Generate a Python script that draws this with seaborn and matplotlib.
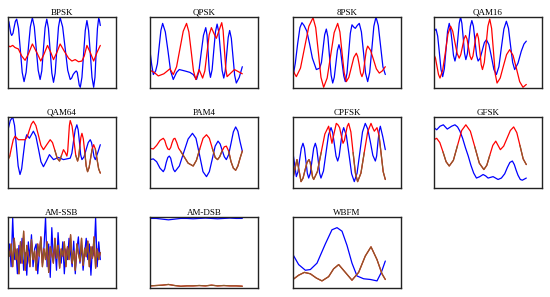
import numpy as np
import pandas as pd
import matplotlib
matplotlib.use("Agg")
import matplotlib.pyplot as plt
import seaborn as sns

sns.set_theme(style="white")
plt.rcParams["font.family"] = ["Liberation Serif", "DejaVu Serif"]

# panel titles, in reading order
titles = ["BPSK", "QPSK", "8PSK", "QAM16", "QAM64", "PAM4",
          "CPFSK", "GFSK", "AM-SSB", "AM-DSB", "WBFM"]

# each trace: sample position (0-100 % of frame) and normalised amplitude (0-1)
bpsk_i_t = [0, 1, 2, 3, 4.0, 5.4, 6.7, 8, 9.4, 11.4, 13.4, 15.4, 17.4, 19.6, 21.9, 24.2, 26.4,
            28.5, 30.6, 32.7, 34.8, 36.6, 38.4, 40.2, 42.0, 43.8, 45.7, 47.5, 49.3, 51.1, 52.9,
            54.7, 56.5, 59.2, 62.0, 64.7, 67.4, 69, 70.6, 72.3, 73.9, 75, 76.1, 77.2, 78.3, 80.1,
            81.9, 83.7, 85.5, 87.3, 89.2, 91, 92.8, 94.2, 95.5, 96.9, 98.2, 99.1, 100]
bpsk_i = [.96, .93, .85, .77, .74, .77, .86, .94, .97, .84, .53, .22, .09, .22, .54, .86, .99,
          .86, .55, .25, .12, .24, .55, .85, .97, .84, .52, .21, .08, .21, .54,
          .86, .99, .86, .55, .25, .12, .14, .19, .22, .24, .22, .13, .04, .01, .15,
          .48, .81, .95, .81, .48, .15, .01, .15, .50, .84, .98, .95, .88]
bpsk_q_t = [0, 2.2, 5.1, 7.6, 11.2, 14.9, 18.5, 22.1, 26.4, 31.2, 35.5, 39.1, 42.8, 46.4, 49.3,
            52.9, 56.5, 60.9, 65.6, 69.2, 72.8, 76.4, 80.1, 82.6, 85.5, 89.1, 92.8, 96.4, 100]
bpsk_q = [.60, .58, .60, .57, .55, .45, .39, .48, .62, .50, .38, .48, .60, .50, .40,
          .50, .62, .52, .42, .38, .40, .37, .38, .45, .60, .50, .38, .50, .60]

qpsk_i_t = [0, 1.8, 3.6, 6.1, 8, 9.9, 11.8, 13.7, 16.6, 19.5, 22.3, 25.2, 28.8, 31.7, 37.8,
            43.2, 46.8, 50.4, 52.9, 55.4, 57.9, 60.4, 61.7, 63, 64.2, 65.5, 67.3, 69.1, 70.9,
            72.7, 74.5, 76.3, 78.1, 79.9, 81.5, 83.1, 84.7, 86.3, 88.1, 89.9, 91.7, 93.5, 96.7, 100]
qpsk_i = [.52, .33, .19, .24, .34, .58, .81, .91, .79, .52, .24, .12, .22, .26, .24,
          .22, .19, .12, .23, .49, .74, .85, .75, .50, .25, .15, .26, .53, .79,
          .90, .79, .52, .25, .14, .24, .48, .71, .81, .70, .44, .18, .07, .15, .30]
qpsk_q_t = [0, 4.5, 9, 15, 21.6, 25.2, 28.8, 32.4, 36, 39.6, 42.1, 44.6, 47.1, 49.6, 51.4,
            53.2, 55.1, 57, 59.4, 61.8, 64.1, 66.5, 69.2, 71.9, 74.8, 77.7, 79.2, 80.6, 82.1,
            83.5, 87.5, 91.5, 100]
qpsk_q = [.25, .22, .17, .20, .27, .19, .30, .55, .80, .91, .79, .52, .24, .12, .19,
          .26, .20, .14, .24, .50, .75, .85, .77, .70, .81, .92, .81, .54, .27,
          .16, .21, .26, .20]

psk8_i_t = [0, 2.5, 5, 7.5, 9.7, 12, 15, 18, 21, 25.3, 28.9, 30.8, 32.5, 34.3, 36.1, 37.8,
            39.5, 41.3, 43.0, 44.7, 46.4, 48.1, 49.8, 51.5, 53.2, 55.0, 56.7, 58.5, 60.3, 62.1,
            63.9, 65.7, 67.5, 69.6, 71.8, 74.1, 76.4, 78.6, 80.9, 83.1, 85.4, 87.6, 89.9, 92.4,
            94.9, 97.4, 100]
psk8_i = [.16, .35, .62, .85, .92, .88, .80, .62, .42, .26, .28, .36, .55, .75, .83, .72,
          .45, .18, .07, .15, .34, .53, .61, .53, .35, .17, .09, .21, .49, .77,
          .89, .86, .84, .88, .91, .79, .50, .21, .09, .22, .55, .87, 1.0, .88,
          .59, .30, .19]
psk8_q_t = [0, 1.8, 3.6, 8.1, 12.7, 17.2, 21.7, 24.6, 27.5, 30.3, 33.2, 37, 40.8, 44.6, 48.4,
            50.8, 53.1, 55.5, 57.8, 60.5, 63.2, 65.9, 68.6, 70.1, 71.7, 73.2, 74.7, 76.3, 77.8,
            79.4, 80.9, 84, 87.2, 90.3, 93.5, 96.7, 100]
psk8_q = [.26, .20, .16, .28, .58, .87, .99, .85, .50, .15, .01, .14, .46, .78, .91,
          .79, .50, .21, .09, .15, .29, .43, .49, .44, .33, .21, .16, .22, .38,
          .53, .59, .53, .40, .27, .21, .24, .30]

qam16_i_t = [0, 2.2, 4, 5.8, 7.6, 9.4, 11.2, 13, 14.7, 16.5, 18, 19.6, 21.1, 22.7, 24.2, 25.8,
             27.3, 28.8, 30.2, 31.7, 33.1, 34.5, 36.1, 37.8, 39.4, 41, 42.7, 44.4, 46.1, 47.8,
             50, 52.3, 54.6, 56.8, 59.5, 62.2, 64.9, 67.6, 70.3, 73, 75.7, 78.4, 80.7, 82.9,
             85.2, 87.4, 91, 94.6, 97.5, 100]
qam16_i = [.80, .83, .73, .50, .26, .16, .27, .54, .80, .91, .83, .65, .46, .38, .47, .69,
           .91, 1.0, .91, .70, .49, .40, .48, .68, .87, .95, .87, .67, .46, .38,
           .42, .53, .64, .68, .61, .44, .26, .19, .30, .57, .83, .94, .84, .60,
           .36, .26, .35, .52, .62, .66]
qam16_q_t = [0, 1.6, 3.3, 4.9, 6.5, 9.4, 12.3, 15.1, 18, 20.3, 22.7, 25, 27.3, 29, 30.8, 32.5,
             34.2, 35.8, 37.4, 39, 40.6, 42.2, 43.7, 45.3, 46.8, 48.2, 49.7, 51.1, 52.5, 54.5,
             56.5, 58.4, 60.4, 62.4, 64.4, 66.3, 68.3, 71.7, 75.2, 78.6, 82, 85.6, 89.2, 92.8,
             96.4, 100]
qam16_q = [.47, .42, .30, .19, .14, .25, .50, .76, .87, .80, .64, .49, .42, .47, .58, .69,
           .74, .69, .57, .45, .40, .45, .58, .72, .77, .70, .52, .33, .26, .36,
           .62, .87, .97, .84, .52, .20, .07, .14, .31, .47, .54, .46, .28, .09,
           .01, .05]

qam64_i_t = [0, 2.5, 5.1, 7.1, 9, 11, 13, 14.8, 16.6, 18.5, 20.3, 23.2, 27.5, 30.2, 33, 35.7,
             38.4, 41.6, 44.9, 49.3, 54.7, 60.1, 67.4, 69.2, 71, 72.8, 74.6, 76, 77.4, 78.7,
             80.1, 82.4, 84.6, 86.9, 89.1, 90.5, 91.9, 93.2, 94.6, 97.3, 100]
qam64_i = [.82, .95, 1.0, .88, .60, .31, .19, .27, .47, .67, .75, .70, .80, .73, .55, .37,
           .30, .38, .47, .40, .43, .40, .42, .49, .66, .82, .89, .82, .65, .47,
           .40, .44, .54, .64, .68, .64, .54, .44, .40, .50, .61]
qam64_q_t = [0, 1.9, 3.8, 5.7, 7.6, 11.2, 18.5, 20.8, 23, 25.3, 27.5, 30.2, 33, 35.7, 38.4, 42,
             45.7, 48.2, 50.8, 53.3, 55.8, 58, 60.1, 62, 63.8, 64.7, 65.6, 66.5, 67.4, 69.4,
             71.4, 73.4, 75.4, 76.6, 77.8, 78.9, 80.1, 81.6, 83.2, 84.7, 86.2, 87.9, 89.5,
             91.2, 92.8, 94.6, 96.4, 98.2, 100]
qam64_q = [.40, .45, .57, .68, .73, .68, .68, .72, .81, .90, .94, .88, .74, .60, .54, .61,
           .68, .64, .53, .42, .38, .46, .54, .50, .45, .52, .70, .88, .95, .87,
           .67, .46, .38, .44, .58, .71, .77, .69, .50, .31, .23, .29, .42,
           .55, .61, .55, .41, .27, .21]

pam4_i_t = [0, 3.6, 7.2, 10.8, 14.4, 16, 17.6, 19.3, 20.9, 22.4, 24, 25.5, 27, 31.8, 36.5,
            41.3, 46, 49.8, 53.6, 57.4, 61.2, 64.3, 67.5, 70.6, 73.7, 76, 78.2, 80.5, 82.7,
            85.2, 87.8, 90.3, 92.8, 95.2, 97.6, 100]
pam4_i = [.40, .41, .37, .28, .23, .27, .36, .43, .45, .42, .33, .26, .23, .31, .50,
          .69, .77, .70, .47, .23, .16, .23, .41, .59, .66, .62, .53, .44, .40,
          .47, .63, .79, .86, .80, .65, .52]
pam4_q_t = [0, 3.6, 7.2, 10.8, 14.4, 16, 17.6, 19.3, 20.9, 22.4, 24, 25.5, 27, 29, 31, 33.1,
            36.5, 41.3, 46.8, 50.3, 53.9, 57.5, 61.2, 64.3, 67.5, 70.6, 73.2, 75.5, 78, 80.5,
            82.7, 85.2, 87.8, 90.3, 92.8, 95.2, 97.6, 100]
pam4_q = [.56, .55, .60, .67, .70, .67, .60, .55, .54, .57, .64, .69, .70, .64, .56, .52,
          .45, .35, .31, .39, .55, .70, .75, .70, .56, .43, .40, .44, .52, .58,
          .59, .52, .37, .28, .25, .31, .42, .52]

cpfsk_i_t = [0, 1.8, 3.6, 5.4, 7.2, 9, 10.8, 12.4, 13.9, 15.5, 17, 18.8, 20.6, 22.4, 24.2,
             25.7, 27.3, 28.8, 30.3, 33, 35.8, 38.5, 41.2, 43, 44.8, 46.6, 48.4, 50, 51.7,
             53.3, 54.9, 57.8, 60.7, 63.5, 66.4, 69.4, 72.4, 75.3, 78.3, 81, 83.8, 86.5, 89.2,
             90.6, 91.9, 93.3, 94.6, 97.3, 100]
cpfsk_i = [.49, .33, .16, .23, .40, .56, .63, .56, .39, .21, .14, .21, .39, .56, .63,
           .56, .39, .21, .14, .24, .50, .75, .85, .78, .62, .45, .38, .45, .62,
           .78, .85, .74, .47, .20, .09, .21, .50, .79, .91, .83, .65, .46, .38,
           .45, .63, .80, .87, .72, .54]
cpfsk_q_t = [0, 2.1, 4.3, 6.5, 8.7, 10.9, 13, 15.2, 17.3, 18.6, 19.9, 21.1, 22.4, 26.4, 30.5,
             34.5, 38.6, 40.4, 42.2, 44.5, 46.9, 48.7, 50.5, 52.3, 54.2, 55.7, 57.2, 58.8, 60.3,
             62.7, 65.1, 67.6, 70, 73.6, 77.2, 80.9, 84.5, 86.3, 88.1, 91, 93.2, 95.5, 97.7, 100]
cpfsk_q = [.14, .27, .40, .25, .09, .14, .25, .36, .40, .36, .26, .16, .12, .23, .50,
           .76, .87, .75, .63, .77, .91, .89, .85, .74, .63, .67, .77, .87, .91,
           .79, .50, .21, .09, .21, .50, .79, .91, .85, .80, .85, .74, .48, .23, .12]

gfsk_i_t = [0, 2.9, 6.5, 10.1, 14.4, 19.1, 22.7, 25.5, 28.1, 31, 34, 37.1, 40, 43, 46, 49.6,
            53.2, 56, 58.6, 61.3, 64, 66.7, 69.4, 73, 76.6, 79.5, 82.2, 84.9, 87, 89, 91, 93.5,
            95.7, 100]
gfsk_i = [.85, .82, .87, .89, .83, .87, .89, .86, .80, .70, .57, .45, .32, .21, .14, .16,
          .19, .17, .14, .15, .16, .14, .12, .14, .20, .29, .36, .38, .33, .25, .18, .12,
          .11, .14]
gfsk_q_t = [0, 2.9, 6.3, 9.7, 13.1, 16.5, 21, 25.5, 30, 34.5, 39.4, 44.2, 49.1, 54, 57.2,
            60.4, 63.7, 66.9, 69.4, 71.9, 75.5, 79.1, 82.7, 86.3, 89.7, 93.1, 96.6, 100]
gfsk_q = [.68, .70, .64, .51, .37, .31, .39, .60, .81, .89, .80, .58, .35, .26, .32,
          .46, .60, .66, .60, .54, .59, .70, .81, .86, .78, .60, .41, .33]

amssb_i = [.45, .62, .30, .99, .40, .55, .20, .60, .35, .70, .25, .50, .18, .65, .42,
           .75, .30, .55, .62, .20, .48, .70, .35, .58, .99, .30, .62, .15, .85, .40,
           .60, .25, .78, .45, .35, .65, .20, .55, .40, .70, .48, .30, .66, .20, .55,
           .72, .35, .60, .25, .50, .70, .40, .62, .18, .58, .45, .99, .30, .65, .40]
amssb_q = [.55, .45, .62, .30, .70, .40, .55, .20, .65, .35, .80, .25, .60, .45, .30,
           .68, .40, .52, .25, .62, .45, .72, .30, .55, .40, .65, .22, .58, .48, .35,
           .70, .42, .60, .28, .55, .45, .65, .30, .58, .40, .75, .35, .52, .25, .62,
           .48, .38, .70, .32, .56, .44, .66, .30, .58, .42, .72, .28, .55, .40, .50]
amssb_i_t = np.linspace(0, 100, len(amssb_i))
amssb_q_t = np.linspace(0, 100, len(amssb_q))

amdsb_i = [.98, .98, .97, .96, .97, .98, .98, .975, .98, .985, .98, .975, .98, .985, .98, .98]
amdsb_q = [.03, .035, .04, .05, .035, .025, .03, .03, .035, .03, .04, .03, .035, .03, .03, .025]
amdsb_i_t = np.linspace(0, 100, len(amdsb_i))
amdsb_q_t = np.linspace(0, 100, len(amdsb_q))

wbfm_i_t = [0, 6.1, 13.4, 18.8, 26.0, 35.0, 42.2, 47.7, 53.1, 58.5, 63.9, 69.3, 76.5, 83.8, 91.0, 95.7, 100]
wbfm_i = [.47, .33, .25, .26, .35, .62, .82, .85, .80, .60, .35, .17, .13, .12, .10, .22, .38]
wbfm_q_t = [0, 6.1, 12.3, 18.8, 25.3, 31.4, 38.6, 44.0, 49.5, 56.7, 63.9, 71.1, 78.3, 84.5, 91.0, 96.4, 100]
wbfm_q = [.12, .18, .22, .20, .14, .10, .16, .27, .33, .22, .11, .22, .45, .58, .40, .20, .12]

traces = [
    (bpsk_i_t, bpsk_i, bpsk_q_t, bpsk_q),
    (qpsk_i_t, qpsk_i, qpsk_q_t, qpsk_q),
    (psk8_i_t, psk8_i, psk8_q_t, psk8_q),
    (qam16_i_t, qam16_i, qam16_q_t, qam16_q),
    (qam64_i_t, qam64_i, qam64_q_t, qam64_q),
    (pam4_i_t, pam4_i, pam4_q_t, pam4_q),
    (cpfsk_i_t, cpfsk_i, cpfsk_q_t, cpfsk_q),
    (gfsk_i_t, gfsk_i, gfsk_q_t, gfsk_q),
    (amssb_i_t, amssb_i, amssb_q_t, amssb_q),
    (amdsb_i_t, amdsb_i, amdsb_q_t, amdsb_q),
    (wbfm_i_t, wbfm_i, wbfm_q_t, wbfm_q),
]

# below this level the red trace shows up brownish in the source picture
brown_below = [0, 0, 0, 0, 0.45, 0.5, 0.5, 0.45, 0.5, 1.1, 1.1]

BLUE, RED, BROWN = "#0000ff", "#ff0000", "#8a5a2b"

fig = plt.figure(figsize=(5.5, 2.97), dpi=100)
W, H = 550, 297
lefts = [8, 150, 293, 434]
tops = [17, 117, 217]
aw, ah = 108, 71

for k, (title, (ti, yi, tq, yq)) in enumerate(zip(titles, traces)):
    r, c = divmod(k, 4)
    ax = fig.add_axes([lefts[c] / W, (H - tops[r] - ah) / H, aw / W, ah / H])
    lw = 0.9
    sns.lineplot(x=np.asarray(ti), y=np.asarray(yi), ax=ax, color=BLUE, lw=lw,
                 estimator=None, sort=False)
    sns.lineplot(x=np.asarray(tq), y=np.asarray(yq), ax=ax, color=RED, lw=lw,
                 estimator=None, sort=False)
    # overlay brown on the low parts of the red trace
    yq_a = np.asarray(yq)
    tq_a = np.asarray(tq)
    low = yq_a < brown_below[k]
    low = low | np.r_[low[1:], False] | np.r_[False, low[:-1]]
    start = None
    for j in range(len(low) + 1):
        if j < len(low) and low[j]:
            if start is None:
                start = j
        elif start is not None:
            if j - start > 1:
                ax.plot(tq_a[start:j], yq_a[start:j], color=BROWN, lw=lw)
            start = None
    ax.set_xlim(0, 117)
    ax.set_ylim(0, 1)
    ax.set_xticks([])
    ax.set_yticks([])
    ax.set_xlabel("")
    ax.set_ylabel("")
    for s in ax.spines.values():
        s.set_visible(True)
        s.set_color("#222222")
        s.set_linewidth(1.0)
    ax.set_title(title, fontsize=6.5, pad=1.5, color="black")

fig.savefig("out.png", dpi=100)
